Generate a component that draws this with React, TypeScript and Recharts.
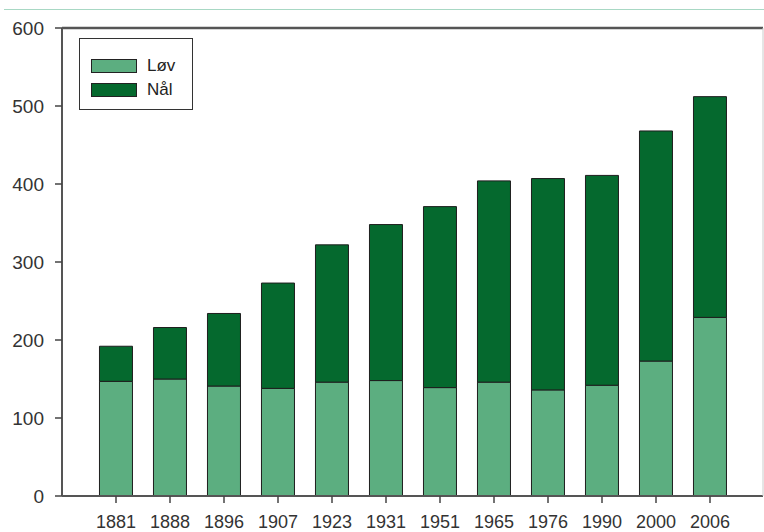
import React from "react";
import { BarChart, Bar, XAxis, YAxis, ReferenceLine } from "recharts";

const years = ["1881", "1888", "1896", "1907", "1923", "1931", "1951", "1965", "1976", "1990", "2000", "2006"];
const lov = [147, 150, 141, 138, 146, 148, 139, 146, 136, 142, 173, 229];
const nal = [45, 66, 93, 135, 176, 200, 232, 258, 271, 269, 295, 283];
const yTicks = [0, 100, 200, 300, 400, 500, 600];

const data = years.map((y, i) => ({ year: y, lov: lov[i], nal: nal[i] }));

const LIGHT = "#5cae80";
const DARK = "#05692e";
const FONT = "'Liberation Sans', Arial, sans-serif";

const LegendBox = () => (
  <div
    style={{
      position: "absolute",
      left: 79,
      top: 38,
      width: 114,
      height: 72,
      border: "1.5px solid #333",
      boxSizing: "border-box",
      background: "#fff",
      fontFamily: FONT,
      fontSize: 17,
      color: "#222",
      paddingTop: 15,
      paddingLeft: 11,
    }}
  >
    {[
      { name: "Løv", color: LIGHT },
      { name: "Nål", color: DARK },
    ].map((e) => (
      <div key={e.name} style={{ display: "flex", alignItems: "center", height: 24 }}>
        <div style={{ width: 44, height: 12, background: e.color, border: "1px solid #222" }} />
        <span style={{ marginLeft: 10 }}>{e.name}</span>
      </div>
    ))}
  </div>
);

export default function App() {
  return (
    <div style={{ position: "absolute", left: 0, top: 0, width: 764, height: 532, background: "#fff" }}>
      <div style={{ position: "absolute", left: 4, top: 9, width: 760, height: 0, borderTop: "1px solid #a8d8c4" }} />
      <BarChart
        width={764}
        height={532}
        data={data}
        margin={{ top: 28, right: 0, left: 0, bottom: 0 }}
        barCategoryGap="19.4%"
      >
        <XAxis
          dataKey="year"
          tickLine={{ stroke: "#444", strokeWidth: 1.5 }}
          axisLine={{ stroke: "#555", strokeWidth: 2 }}
          tickSize={7}
          tickMargin={12}
          height={36}
          padding={{ left: 27, right: 26 }}
          interval={0}
          tick={{ fill: "#333", fontSize: 18, fontFamily: FONT }}
        />
        <YAxis
          domain={[0, 600]}
          ticks={yTicks}
          width={62}
          tickSize={7}
          tickMargin={11}
          tickLine={{ stroke: "#444", strokeWidth: 1.5 }}
          axisLine={{ stroke: "#555", strokeWidth: 2 }}
          tick={{ fill: "#333", fontSize: 19, fontFamily: FONT }}
        />
        <YAxis
          yAxisId="right"
          orientation="right"
          domain={[0, 600]}
          width={1}
          tick={false}
          tickLine={false}
          axisLine={{ stroke: "#ccc", strokeWidth: 1 }}
        />
        <ReferenceLine y={600} stroke="#555" strokeWidth={2.5} />
        <Bar dataKey="lov" name="Løv" stackId="a" fill={LIGHT} stroke="#1e1e1e" strokeWidth={1} isAnimationActive={false} />
        <Bar dataKey="nal" name="Nål" stackId="a" fill={DARK} stroke="#1e1e1e" strokeWidth={1} isAnimationActive={false} />
      </BarChart>
      <LegendBox />
    </div>
  );
}
